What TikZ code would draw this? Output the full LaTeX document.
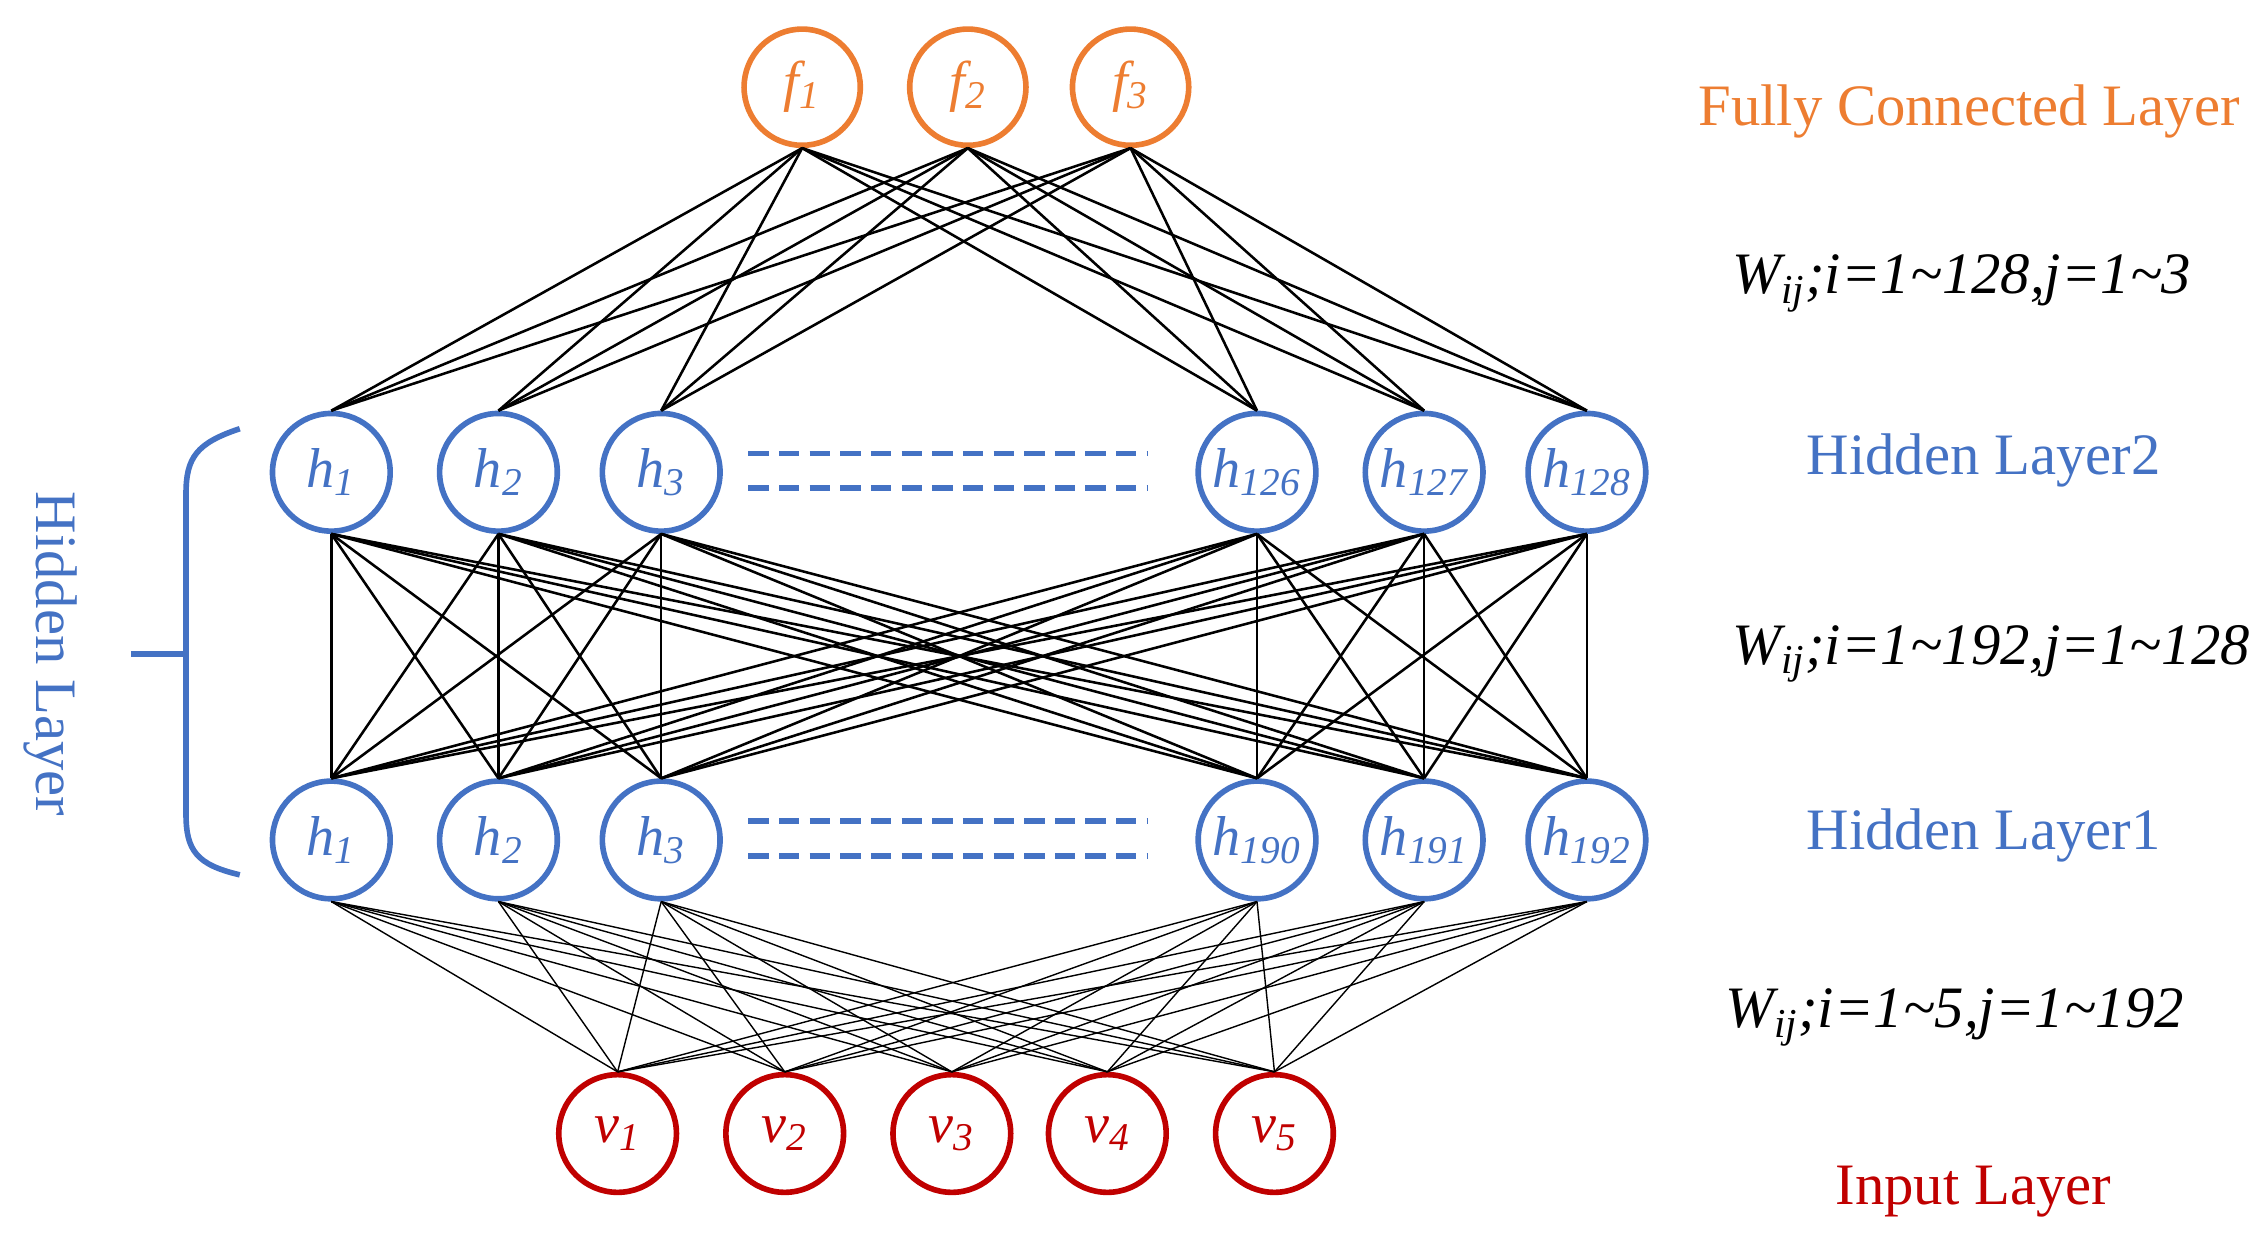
\documentclass[tikz,border=0pt]{standalone}
\usepackage{fontspec}
\setmainfont{Liberation Serif}
\begin{document}
\definecolor{cor}{RGB}{237,125,49}
\definecolor{cbl}{RGB}{68,114,196}
\definecolor{crd}{RGB}{192,0,0}
\begin{tikzpicture}[x=0.02cm,y=-0.02cm,
 neu/.style={circle,draw,line width=2.2pt,minimum size=1.62cm,inner sep=0pt,font=\fontsize{22}{24}\selectfont\itshape},
 fn/.style={neu,draw=cor,text=cor,minimum size=1.6cm},
 hn/.style={neu,draw=cbl,text=cbl},
 vn/.style={neu,draw=crd,text=crd},
 lab/.style={font=\fontsize{23}{25}\selectfont},
 wl/.style={font=\fontsize{23}{25}\selectfont\itshape},
 e1/.style={line width=1pt},
 e2/.style={line width=0.55pt}]
\useasboundingbox (0,0) rectangle (1560,852);
\foreach \n/\x in {1/552,2/666,3/778}
  \node[fn] (f\n) at (\x,60) {f\textsubscript{\n}};
\foreach \n/\x/\t in {1/228/1,2/343/2,3/455/3,4/865/126,5/980/127,6/1092/128}
  \node[hn] (a\n) at (\x,325) {h\textsubscript{\t}};
\foreach \n/\x/\t in {1/228/1,2/343/2,3/455/3,4/865/190,5/980/191,6/1092/192}
  \node[hn] (b\n) at (\x,578) {h\textsubscript{\t}};
\foreach \n/\x in {1/425,2/540,3/655,4/762,5/877}
  \node[vn] (v\n) at (\x,780) {v\textsubscript{\n}};
\foreach \i in {1,2,3} \foreach \j in {1,...,6}
  \draw[e1] (f\i.south) -- (a\j.north);
\foreach \i in {1,...,6} \foreach \j in {1,...,6}
  \draw[e1] (a\i.south) -- (b\j.north);
\foreach \i in {1,...,6} \foreach \j in {1,...,5}
  \draw[e2] (b\i.south) -- (v\j.north);
\foreach \y in {312,336,565,589}
  \draw[cbl,line width=2.2pt,dash pattern=on 8pt off 4pt] (515,\y) -- (790,\y);
\coordinate (bt) at (165,295); \coordinate (bb) at (165,602);
\coordinate (bm) at (128,450); \coordinate (bl) at (90,450);
\draw[cbl,line width=2.2pt] (bt) .. controls (135,305) and (128,315) .. (128,340) -- (128,560) .. controls (128,585) and (135,595) .. (bb);
\draw[cbl,line width=2.2pt] (bl) -- (bm);
\node[lab,text=cbl,rotate=-90] (hl) at (35,450) {Hidden Layer};
\node[lab,text=cor] (t1) at (1355,77) {Fully Connected Layer};
\node[wl] (w1) at (1350,195) {W\textsubscript{ij};i=1\textasciitilde128,j=1\textasciitilde3};
\node[lab,text=cbl] (t2) at (1365,317) {Hidden Layer2};
\node[wl] (w2) at (1370,450) {W\textsubscript{ij};i=1\textasciitilde192,j=1\textasciitilde128};
\node[lab,text=cbl] (t3) at (1365,575) {Hidden Layer1};
\node[wl] (w3) at (1345,700) {W\textsubscript{ij};i=1\textasciitilde5,j=1\textasciitilde192};
\node[lab,text=crd] (t4) at (1358,820) {Input Layer};
\end{tikzpicture}
\end{document}
